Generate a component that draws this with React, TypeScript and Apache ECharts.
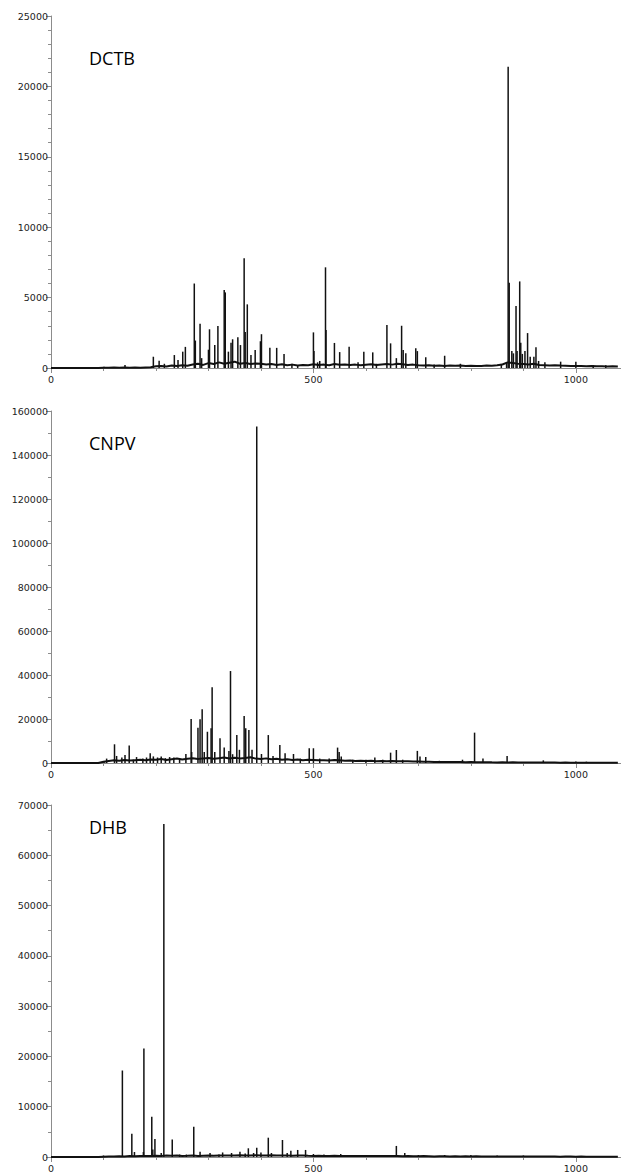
import React, { useEffect, useRef } from "react";
import * as echarts from "echarts";

// ---------- data ----------
const panelNames = ["DCTB", "CNPV", "DHB"];
const yMaxes = [25000, 160000, 70000];
const yIntervals = [5000, 20000, 10000];
const yMinorSplits = [5, 2, 2];
const xMax = 1086;
const xInterval = 500;

// [m/z, intensity] sticks
const dctbPeaks: [number, number][] = [
  [101, 80], [141, 210], [195, 800], [206, 520], [216, 300], [235, 920], [242, 570],
  [251, 1160], [256, 1500], [273, 6000], [275, 1950], [284, 3150], [287, 700],
  [300, 1300], [302, 2750], [312, 1630], [318, 2980], [330, 5540], [332, 5370],
  [338, 1160], [343, 1800], [346, 2040], [356, 2180], [361, 1630], [368, 7800],
  [370, 2560], [374, 4520], [381, 920], [389, 1280], [399, 1900], [401, 2400],
  [417, 1440], [430, 1430], [444, 990], [459, 300], [470, 200], [500, 2530],
  [501, 1200], [508, 400], [512, 500], [523, 7150], [524, 2700], [540, 1780],
  [550, 1130], [568, 1510], [585, 400], [596, 1160], [613, 1110], [620, 300],
  [640, 3050], [647, 1750], [658, 700], [668, 3000], [671, 1280], [676, 1040],
  [695, 1400], [698, 1200], [714, 760], [730, 250], [750, 870], [780, 300],
  [858, 300], [868, 400], [871, 21400], [873, 6060], [878, 1200], [881, 1040],
  [886, 4400], [888, 1200], [893, 6150], [895, 1800], [898, 1000], [903, 1200],
  [908, 2480], [913, 800], [920, 800], [924, 1470], [929, 500], [941, 400],
  [971, 450], [1000, 450], [1033, 200], [1057, 200],
];

const cnpvPeaks: [number, number][] = [
  [101, 800], [106, 2000], [121, 8500], [125, 3200], [135, 2500], [141, 3600],
  [149, 7900], [157, 1500], [163, 2700], [175, 2000], [182, 2500], [189, 4400],
  [195, 3000], [203, 2500], [210, 3000], [218, 2200], [226, 2700], [234, 2500],
  [245, 2000], [257, 4100], [267, 20000], [268, 5000], [280, 16000], [284, 19900],
  [288, 24400], [292, 5000], [298, 14200], [305, 15800], [307, 34400], [312, 5000],
  [322, 11200], [330, 7000], [339, 5500], [342, 41800], [346, 4000], [354, 12700],
  [359, 6000], [368, 21400], [371, 15800], [377, 15000], [383, 6000], [392, 152900],
  [401, 4100], [414, 12700], [423, 3200], [436, 8200], [446, 4400], [462, 4100],
  [475, 2000], [492, 6700], [500, 6700], [512, 2000], [530, 2000], [546, 7000],
  [549, 5000], [553, 3000], [575, 1500], [600, 1500], [617, 2500], [632, 1500],
  [647, 4700], [658, 5900], [670, 1500], [698, 5500], [703, 3000], [714, 2700],
  [740, 1000], [784, 1500], [807, 13800], [823, 2000], [869, 3200], [938, 1200],
  [1000, 700], [1020, 600],
];

const dhbPeaks: [number, number][] = [
  [100, 300], [136, 17200], [154, 4600], [159, 1000], [176, 1000], [177, 21600],
  [192, 8000], [194, 1500], [198, 3600], [210, 800], [215, 66200], [231, 3500],
  [245, 500], [258, 500], [272, 6000], [284, 1050], [303, 800], [320, 500],
  [327, 900], [344, 800], [360, 1050], [370, 700], [376, 1730], [386, 800],
  [392, 1850], [400, 900], [414, 3840], [420, 800], [441, 3380], [450, 800],
  [457, 1250], [470, 1400], [485, 1400], [500, 600], [520, 500], [552, 600],
  [600, 400], [658, 2200], [674, 800], [700, 400], [750, 400], [800, 400],
  [850, 300], [900, 300], [950, 200],
];

// baseline noise level sampled every 10 m/z from 0
const baselineStep = 10;
const dctbBaseline = [
  0, 0, 0, 0, 0, 0, 0, 0, 0, 0,
  20, 10, 30, 10, 40, 20, 30, 20, 40, 60,
  120, 150, 100, 180, 140, 200, 160, 250, 300, 220,
  350, 280, 400, 300, 380, 450, 300, 350, 280, 320,
  300, 250, 280, 220, 260, 200, 240, 180, 220, 200,
  260, 220, 240, 200, 280, 230, 250, 210, 240, 200,
  230, 260, 210, 250, 280, 240, 300, 260, 220, 240,
  200, 180, 190, 160, 170, 150, 180, 160, 170, 150,
  160, 150, 140, 170, 160, 200, 250, 400, 350, 300,
  280, 250, 300, 220, 200, 180, 190, 170, 160, 150,
  140, 150, 130, 140, 120, 130, 110, 120, 100,
];
const cnpvBaseline = [
  0, 0, 0, 0, 0, 0, 0, 0, 0, 0,
  600, 900, 1200, 1000, 1400, 1100, 1300, 1500, 1200, 1600,
  1500, 1800, 1400, 1700, 2000, 1600, 1900, 2200, 1800, 2100,
  2300, 1900, 2200, 2500, 2000, 2400, 2100, 2300, 2600, 2000,
  1800, 2100, 1700, 1900, 1500, 1700, 1400, 1600, 1300, 1500,
  1400, 1200, 1300, 1100, 1400, 1200, 1000, 1100, 900, 1000,
  900, 1000, 800, 950, 850, 900, 800, 750, 850, 700,
  650, 600, 550, 500, 450, 500, 400, 450, 400, 350,
  400, 350, 300, 350, 300, 280, 300, 250, 300, 250,
  250, 220, 200, 230, 200, 180, 200, 170, 180, 160,
  150, 160, 140, 150, 130, 140, 120, 130, 110,
];
const dhbBaseline = [
  0, 0, 0, 0, 0, 0, 0, 0, 0, 0,
  50, 80, 100, 150, 120, 180, 150, 200, 180, 220,
  250, 220, 300, 250, 280, 220, 250, 300, 220, 250,
  280, 250, 300, 320, 280, 300, 350, 320, 300, 350,
  320, 300, 350, 280, 300, 320, 250, 280, 300, 250,
  220, 250, 200, 220, 250, 200, 220, 200, 180, 200,
  200, 180, 200, 180, 220, 200, 180, 150, 180, 150,
  150, 180, 150, 120, 150, 140, 120, 150, 120, 140,
  120, 150, 120, 110, 120, 100, 110, 100, 110, 100,
  100, 90, 100, 80, 90, 80, 90, 70, 80, 80,
  70, 80, 70, 70, 60, 70, 60, 60, 50,
];

const allPeaks = [dctbPeaks, cnpvPeaks, dhbPeaks];
const allBaselines = [dctbBaseline, cnpvBaseline, dhbBaseline];

// ---------- layout ----------
const gridTops = [16, 411, 805];
const gridHeight = 352;
const gridLeft = 51;
const titleYs = [61, 446, 830];

export default function App() {
  const ref = useRef<HTMLDivElement>(null);
  useEffect(() => {
    document.body.style.margin = "0";
    if (!ref.current) return;
    const chart = echarts.init(ref.current, undefined, { renderer: "svg" });
    const axisColor = "#8c8c8c";
    const labelFont = "DejaVu Sans";
    const grids = gridTops.map((t) => ({ left: gridLeft, right: 0, top: t, height: gridHeight }));
    const xAxes = gridTops.map((_, i) => ({
      type: "value",
      gridIndex: i,
      min: 0,
      max: xMax,
      interval: xInterval,
      splitLine: { show: false },
      minorSplitLine: { show: false },
      axisLine: { show: true, lineStyle: { color: axisColor, width: 1 } },
      axisTick: { show: true, length: 5, lineStyle: { color: axisColor } },
      minorTick: { show: true, splitNumber: 5, length: 3, lineStyle: { color: axisColor } },
      axisLabel: {
        fontFamily: labelFont,
        fontSize: 9.5,
        color: "#222",
        margin: 6,
        showMaxLabel: false,
        formatter: (v: number) => (v % xInterval === 0 ? String(v) : ""),
      },
    }));
    const yAxes = gridTops.map((_, i) => ({
      type: "value",
      gridIndex: i,
      min: 0,
      max: yMaxes[i],
      interval: yIntervals[i],
      splitLine: { show: false },
      minorSplitLine: { show: false },
      axisLine: { show: true, lineStyle: { color: axisColor, width: 1 } },
      axisTick: { show: true, length: 5, lineStyle: { color: axisColor } },
      minorTick: { show: true, splitNumber: yMinorSplits[i], length: 3, lineStyle: { color: axisColor } },
      axisLabel: {
        fontFamily: labelFont,
        fontSize: 9.5,
        color: "#222",
        margin: 3,
        formatter: (v: number) => String(v),
      },
    }));
    const series: any[] = [];
    allBaselines.forEach((b, i) => {
      series.push({
        type: "line",
        xAxisIndex: i,
        yAxisIndex: i,
        symbol: "none",
        silent: true,
        lineStyle: { color: "#111", width: 2 },
        data: b.map((v, k) => [k * baselineStep, v]),
        z: 3,
      });
    });
    allPeaks.forEach((p, i) => {
      series.push({
        type: "bar",
        xAxisIndex: i,
        yAxisIndex: i,
        barWidth: 1.5,
        silent: true,
        itemStyle: { color: "#111" },
        data: p,
        z: 4,
      });
    });
    chart.setOption({
      animation: false,
      grid: grids,
      xAxis: xAxes,
      yAxis: yAxes,
      series,
      graphic: panelNames.map((n, i) => ({
        type: "text",
        left: 89,
        top: titleYs[i] - 12,
        style: { text: n, font: '18px "Open Sans"', fill: "#000" },
      })),
    });
    return () => chart.dispose();
  }, []);
  return <div ref={ref} style={{ width: 621, height: 1173 }} />;
}
